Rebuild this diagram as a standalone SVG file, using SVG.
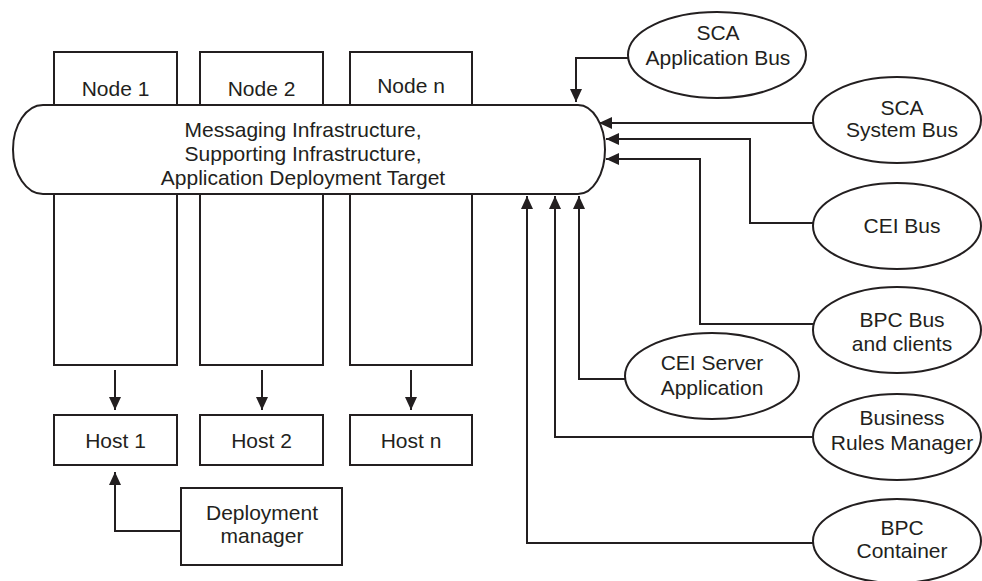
<svg xmlns="http://www.w3.org/2000/svg" width="982" height="581" viewBox="0 0 982 581">
<defs>
<marker id="ah" markerUnits="userSpaceOnUse" markerWidth="13" markerHeight="12" refX="13" refY="6" orient="auto">
<path d="M0,0 L13,6 L0,12 Z" fill="#231f20"/>
</marker>
<style>
.b{fill:#fff;stroke:#231f20;stroke-width:2}
.t{font-family:"Liberation Sans",Arial,sans-serif;font-size:21px;fill:#231f20;text-anchor:middle}
.c{fill:none;stroke:#231f20;stroke-width:2;marker-end:url(#ah)}
</style>
</defs>
<rect width="982" height="581" fill="#fff"/>
<g id="node1"><rect class="b" x="54" y="52" width="123" height="313"/><text class="t" x="115.5" y="96">Node 1</text></g>
<g id="node2"><rect class="b" x="200" y="52" width="123" height="313"/><text class="t" x="261.5" y="96">Node 2</text></g>
<g id="noden"><rect class="b" x="350" y="52" width="122" height="313"/><text class="t" x="411" y="93">Node n</text></g>
<g id="bus">
<path class="b" d="M43,105 H578 A27,44.5 0 0 1 578,194 H43 A30,44.5 0 0 1 43,105 Z"/>
<text class="t" x="303" y="137">Messaging Infrastructure,</text>
<text class="t" x="303" y="161">Supporting Infrastructure,</text>
<text class="t" x="303" y="185">Application Deployment Target</text>
</g>
<g id="host1"><rect class="b" x="54" y="415" width="123" height="50"/><text class="t" x="115.5" y="448">Host 1</text></g>
<g id="host2"><rect class="b" x="200" y="415" width="123" height="50"/><text class="t" x="261.5" y="448">Host 2</text></g>
<g id="hostn"><rect class="b" x="350" y="415" width="122" height="50"/><text class="t" x="411" y="448">Host n</text></g>
<g id="dm"><rect class="b" x="181" y="488" width="161" height="77"/><text class="t" x="262" y="520">Deployment</text><text class="t" x="262" y="543">manager</text></g>
<g id="scaapp"><ellipse class="b" cx="717" cy="55" rx="89" ry="43"/><text class="t" x="718" y="40">SCA</text><text class="t" x="718" y="65">Application Bus</text></g>
<g id="scasys"><ellipse class="b" cx="897" cy="120" rx="84" ry="43"/><text class="t" x="902" y="115">SCA</text><text class="t" x="902" y="137">System Bus</text></g>
<g id="ceibus"><ellipse class="b" cx="897" cy="226" rx="84" ry="43"/><text class="t" x="902" y="233">CEI Bus</text></g>
<g id="bpcbus"><ellipse class="b" cx="897" cy="330" rx="84" ry="43"/><text class="t" x="902" y="327">BPC Bus</text><text class="t" x="902" y="351">and clients</text></g>
<g id="ceiserver"><ellipse class="b" cx="712" cy="376" rx="87" ry="43"/><text class="t" x="712" y="370">CEI Server</text><text class="t" x="712" y="395">Application</text></g>
<g id="brm"><ellipse class="b" cx="897" cy="437" rx="84" ry="43"/><text class="t" x="902" y="425">Business</text><text class="t" x="902" y="450">Rules Manager</text></g>
<g id="bpccont"><ellipse class="b" cx="897" cy="541" rx="84" ry="42"/><text class="t" x="902" y="535">BPC</text><text class="t" x="902" y="558">Container</text></g>
<g id="connectors">
<path class="c" d="M115,370 V410"/>
<path class="c" d="M262,370 V410"/>
<path class="c" d="M411,370 V410"/>
<path class="c" d="M181,531 H115 V472"/>
<path class="c" d="M628,58 H576 V102"/>
<path class="c" d="M813,123 H599"/>
<path class="c" d="M813,223 H750 V139 H606"/>
<path class="c" d="M813,324 H700 V159 H606"/>
<path class="c" d="M625,379 H579 V196"/>
<path class="c" d="M813,437 H555 V196"/>
<path class="c" d="M813,543 H527 V196"/>
</g>
</svg>
